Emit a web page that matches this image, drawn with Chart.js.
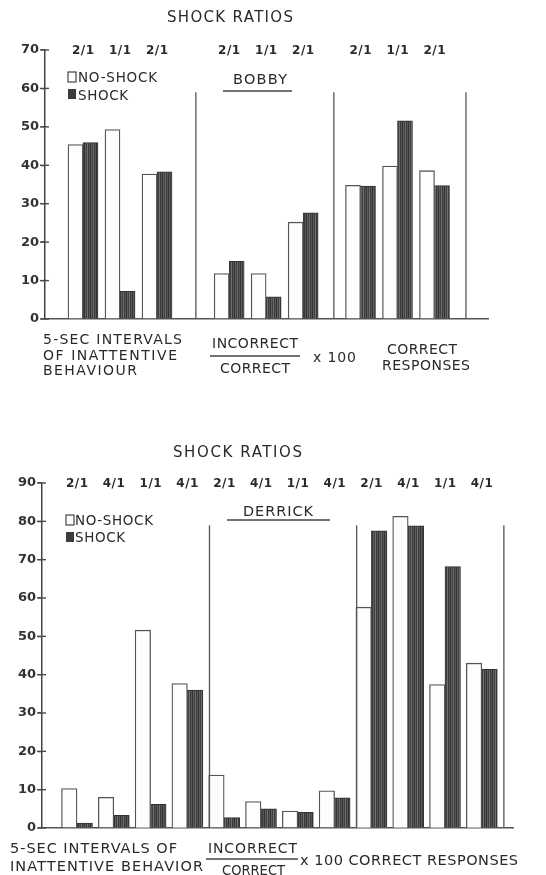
<!DOCTYPE html>
<html><head><meta charset="utf-8">
<script src="https://cdn.jsdelivr.net/npm/chart.js@4/dist/chart.umd.min.js"></script>
<style>
html,body{margin:0;padding:0;background:#fff;}
#wrap{position:relative;width:546px;height:875px;background:#fff;}
canvas{position:absolute;left:0;top:0;}
</style></head><body>
<div id="wrap"><canvas id="c1" width="546" height="875"></canvas><canvas id="c2" width="546" height="875"></canvas></div>
<script>
// ---------------- DATA ----------------
// Bobby: three measures (panels), each with three shock-ratio conditions
const bobbyRatios  = ['2/1','1/1','2/1', '2/1','1/1','2/1', '2/1','1/1','2/1'];
const bobbyPanels  = [3, 3, 3];
const bobbyNoShock = [45.4, 49.3, 37.7, 11.8, 11.8, 25.2, 34.8, 39.8, 38.6];
const bobbyShock   = [45.9, 7.2, 38.3, 15.0, 5.8, 27.6, 34.6, 51.6, 34.7];
const bobbyYTicks  = [0, 10, 20, 30, 40, 50, 60, 70];

// Derrick: three measures (panels), each with four shock-ratio conditions
const derrickRatios  = ['2/1','4/1','1/1','4/1', '2/1','4/1','1/1','4/1', '2/1','4/1','1/1','4/1'];
const derrickPanels  = [4, 4, 4];
const derrickNoShock = [10.3, 8.0, 51.6, 37.7, 13.8, 6.9, 4.4, 9.7, 57.6, 81.3, 37.4, 43.0];
const derrickShock   = [1.3, 3.3, 6.2, 36.0, 2.7, 5.0, 4.1, 7.9, 77.5, 78.8, 68.2, 41.4];
const derrickYTicks  = [0, 10, 20, 30, 40, 50, 60, 70, 80, 90];

const seriesNames = ['NO-SHOCK', 'SHOCK'];

// ---------------- STYLE / LAYOUT ----------------
const FONT = '"DejaVu Sans", "Liberation Sans", sans-serif';
const INK = '#2a2a2a';
const LINE = '#4a4a4a';

function makeStripe(ctx) {
  const c = document.createElement('canvas'); c.width = 6; c.height = 2;
  const g = c.getContext('2d');
  ['#333333','#5e5e5e','#404040','#707070','#3a3a3a','#585858'].forEach((col, i) => {
    g.fillStyle = col; g.fillRect(i, 0, 1, 2);
  });
  return ctx.createPattern(c, 'repeat');
}

function drawFit(ctx, str, left, right, cy, size, weight) {
  ctx.save();
  ctx.font = (weight || 'normal') + ' ' + size + 'px ' + FONT;
  ctx.fillStyle = INK; ctx.textBaseline = 'alphabetic'; ctx.textAlign = 'left';
  const hasLS = ('letterSpacing' in ctx);
  if (hasLS) ctx.letterSpacing = '0px';
  const m = ctx.measureText(str).width;
  const n = str.length;
  const w = right - left;
  const base = cy + size * 0.73 / 2;
  const ls = n > 1 ? (w - m) / (n - 1) : 0;
  if (hasLS && ls >= -0.3) {
    ctx.letterSpacing = ls + 'px';
    ctx.fillText(str, left, base);
  } else {
    ctx.translate(left, base); ctx.scale(w / m, 1); ctx.fillText(str, 0, 0);
  }
  ctx.restore();
}
function drawCentered(ctx, str, cx, cy, size, ls, weight) {
  ctx.save();
  ctx.font = (weight || 'normal') + ' ' + size + 'px ' + FONT;
  ctx.fillStyle = INK; ctx.textBaseline = 'alphabetic'; ctx.textAlign = 'left';
  if ('letterSpacing' in ctx) ctx.letterSpacing = ls + 'px';
  const w = ctx.measureText(str).width - ls;
  ctx.fillText(str, cx - w / 2, cy + size * 0.73 / 2);
  ctx.restore();
}
function line(ctx, x1, y1, x2, y2, w, col) {
  ctx.save(); ctx.strokeStyle = col || LINE; ctx.lineWidth = w || 1.2;
  ctx.beginPath(); ctx.moveTo(x1, y1); ctx.lineTo(x2, y2); ctx.stroke(); ctx.restore();
}

const layoutBobby = {
  axisX: 45, plotRight: 488, plotTop: 50, plotBottom: 319,
  firstCenter: 83, step: 37, panelGaps: [0.95, 0.55], dividerOffsets: [1.05, 0.83, 0.85],
  barThickness: 15, dividerTop: 59, yMax: 70, ratioY: 50,
  title: ['SHOCK RATIOS', 167, 293, 17, 15],
  legend: { box1: [68, 72, 8, 10], t1: [78, 157, 77.5], box2: [68, 89, 8, 10], t2: [78, 128, 95.5], size: 13.5 },
  name: ['BOBBY', 233, 287, 79, 14.5], nameLine: [223, 292, 91],
  texts: [
    ['5-SEC INTERVALS', 43, 182, 339, 14],
    ['OF INATTENTIVE', 43, 177, 354.5, 14],
    ['BEHAVIOUR', 43, 137, 370, 14],
    ['INCORRECT', 212, 298, 343, 14],
    ['CORRECT', 220, 290, 367.5, 14],
    ['x 100', 313, 356, 357, 14],
    ['CORRECT', 387, 457, 349, 14],
    ['RESPONSES', 382, 470, 365, 14]
  ],
  lines: [[210, 300, 356]]
};
const layoutDerrick = {
  axisX: 42, plotRight: 513, plotTop: 483, plotBottom: 828,
  firstCenter: 77, step: 36.8, panelGaps: [0, 0], dividerOffsets: [0.6, 0.6, 0.6],
  barThickness: 15.5, dividerTop: 79, yMax: 90, ratioY: 483,
  title: ['SHOCK RATIOS', 173, 302, 452, 15],
  legend: { box1: [66, 515, 8, 10], t1: [75, 153, 520], box2: [66, 532, 8, 10], t2: [75, 125, 537], size: 13.5 },
  name: ['DERRICK', 243, 313, 511, 14.5], nameLine: [227, 330, 520],
  texts: [
    ['5-SEC INTERVALS OF', 10, 177, 848, 14.5],
    ['INATTENTIVE BEHAVIOR', 10, 203, 865.5, 14.5],
    ['INCORRECT', 208, 297, 848, 14],
    ['CORRECT', 222, 285, 870, 14],
    ['x 100 CORRECT RESPONSES', 300, 518, 860, 14.5]
  ],
  lines: [[206, 298, 859]]
};

function buildChart(canvasId, ratios, panels, noShock, shock, yTicks, L) {
  const canvas = document.getElementById(canvasId);
  const ctx = canvas.getContext('2d');
  const stripe = makeStripe(ctx);
  const xs = []; const dividers = [];
  let pos = 0;
  panels.forEach((n, p) => {
    if (p > 0) pos += L.panelGaps[p - 1];
    for (let i = 0; i < n; i++) { xs.push(pos); pos += 1; }
    dividers.push(xs[xs.length - 1] + L.dividerOffsets[p]);
  });
  const xMin = -(L.firstCenter - L.axisX) / L.step;
  const xMax = (L.plotRight - L.firstCenter) / L.step;

  const decor = {
    id: 'decor',
    afterDraw(chart) {
      const c = chart.ctx;
      const xs_ = chart.scales.x, ys = chart.scales.y;
      dividers.forEach(d => {
        const px = xs_.getPixelForValue(d);
        line(c, px, ys.getPixelForValue(0), px, ys.getPixelForValue(L.dividerTop), 1.3, '#555');
      });
      yTicks.forEach(v => {
        const py = ys.getPixelForValue(v);
        line(c, L.axisX - 5, py, L.axisX + 4, py, 1.4, LINE);
      });
      ratios.forEach((r, i) => drawCentered(c, r, xs_.getPixelForValue(xs[i]), L.ratioY, 12, 0.5, 'bold'));
      drawFit(c, ...L.title.slice(0, 4), L.title[4]);
      const lg = L.legend;
      c.save();
      c.fillStyle = '#fff'; c.strokeStyle = '#444'; c.lineWidth = 1.2;
      c.fillRect(...lg.box1); c.strokeRect(...lg.box1);
      c.fillStyle = '#3c3c3c'; c.fillRect(...lg.box2);
      c.restore();
      drawFit(c, seriesNames[0], lg.t1[0], lg.t1[1], lg.t1[2], lg.size);
      drawFit(c, seriesNames[1], lg.t2[0], lg.t2[1], lg.t2[2], lg.size);
      drawFit(c, L.name[0], L.name[1], L.name[2], L.name[3], L.name[4]);
      line(c, L.nameLine[0], L.nameLine[2], L.nameLine[1], L.nameLine[2], 1.5, '#444');
      L.texts.forEach(t => drawFit(c, t[0], t[1], t[2], t[3], t[4]));
      L.lines.forEach(l => line(c, l[0], l[2], l[1], l[2], 1.3, '#444'));
    }
  };

  return new Chart(ctx, {
    type: 'bar',
    data: {
      datasets: [
        { label: seriesNames[0], data: noShock.map((v, i) => ({ x: xs[i], y: v })),
          backgroundColor: '#fdfdfd', borderColor: '#555', borderWidth: 1.3, barThickness: L.barThickness },
        { label: seriesNames[1], data: shock.map((v, i) => ({ x: xs[i], y: v })),
          backgroundColor: stripe, borderColor: '#333', borderWidth: 1, barThickness: L.barThickness }
      ]
    },
    options: {
      responsive: false, animation: false,
      layout: { padding: { left: 0, top: L.plotTop, right: 546 - L.plotRight, bottom: 875 - L.plotBottom } },
      plugins: { legend: { display: false }, tooltip: { enabled: false } },
      scales: {
        x: { type: 'linear', min: xMin, max: xMax, offset: false, bounds: 'data',
             grid: { display: false, offset: false }, ticks: { display: false },
             border: { display: true, color: '#555', width: 1.5 },
             afterFit: s => { s.height = 0; } },
        y: { min: 0, max: L.yMax,
             afterBuildTicks: s => { s.ticks = yTicks.map(v => ({ value: v })); },
             ticks: { font: { family: FONT, size: 13, weight: 'bold' }, color: '#333', padding: 2 },
             grid: { drawOnChartArea: false, drawTicks: true, tickLength: 4, color: LINE, lineWidth: 1.3 },
             border: { display: true, color: '#444', width: 1.5 },
             afterFit: s => { s.width = L.axisX; } }
      }
    },
    plugins: [decor]
  });
}

buildChart('c1', bobbyRatios, bobbyPanels, bobbyNoShock, bobbyShock, bobbyYTicks, layoutBobby);
buildChart('c2', derrickRatios, derrickPanels, derrickNoShock, derrickShock, derrickYTicks, layoutDerrick);
</script>
</body></html>
